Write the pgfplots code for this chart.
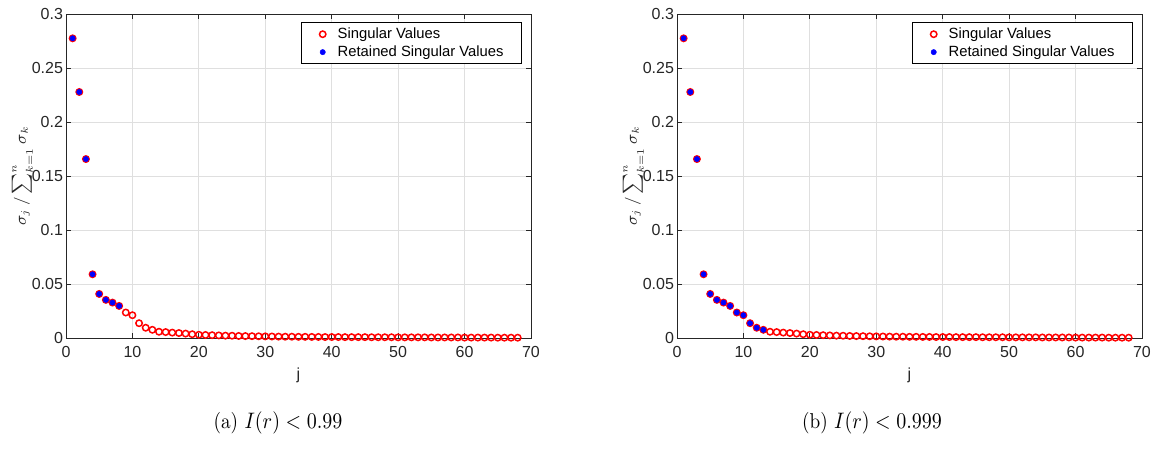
\documentclass[border=0pt]{standalone}
\usepackage{pgfplots}
\pgfplotsset{compat=1.18}
\usepackage{pgfplotstable}
\usepackage{fontspec}
\newfontfamily\arial{Liberation Sans}
\definecolor{axgray}{RGB}{38,38,38}
\definecolor{gridgray}{RGB}{223,223,223}

% normalised singular values sigma_j / sum_k sigma_k
\pgfplotstableread{
j s
1 0.2775
2 0.2278
3 0.1657
4 0.0590
5 0.0408
6 0.0353
7 0.0328
8 0.0297
9 0.0236
10 0.0211
11 0.0137
12 0.0095
13 0.0076
14 0.0058
15 0.0055
16 0.0050
17 0.0046
18 0.0041
19 0.0035
20 0.0030
21 0.0028
22 0.0026
23 0.0024
24 0.0022
25 0.0021
26 0.0019
27 0.0018
28 0.0017
29 0.0016
30 0.0015
31 0.0014
32 0.0013
33 0.0012
34 0.0012
35 0.0011
36 0.0011
37 0.0010
38 0.0010
39 0.0009
40 0.0009
41 0.0009
42 0.0008
43 0.0008
44 0.0008
45 0.0008
46 0.0007
47 0.0007
48 0.0007
49 0.0007
50 0.0006
51 0.0006
52 0.0006
53 0.0006
54 0.0006
55 0.0005
56 0.0005
57 0.0005
58 0.0005
59 0.0005
60 0.0004
61 0.0004
62 0.0004
63 0.0004
64 0.0004
65 0.0003
66 0.0003
67 0.0003
68 0.0003
}\svtable

\pgfplotsset{
  svaxis/.style={
    scale only axis, width=232.5pt, height=162pt,
    xmin=0, xmax=70, ymin=0, ymax=0.3,
    xtick={0,10,20,30,40,50,60,70},
    ytick={0,0.05,0.1,0.15,0.2,0.25,0.3},
    scaled y ticks=false,
    yticklabel style={/pgf/number format/fixed, /pgf/number format/precision=2, xshift=2pt},
    xticklabel style={yshift=-0.8pt},
    /pgf/number format/assume math mode=true,
    axis line style={axgray, line width=0.45pt},
    tick style={axgray, line width=0.45pt},
    tick align=inside, major tick length=2.3pt,
    grid=major, major grid style={gridgray, line width=0.4pt},
    tick label style={font=\arial\fontsize{8}{9.6}\selectfont, text=axgray},
    xlabel={j},
    xlabel style={font=\arial\fontsize{8}{9.6}\selectfont, text=axgray,
      at={(axis description cs:0.5,-0.114)}, anchor=center},
    ylabel={$\sigma_j\,/\sum_{k=1}^{n}\sigma_k$},
    ylabel style={text=axgray, font=\fontsize{7.6}{9}\selectfont, inner sep=0pt,
      at={(axis description cs:-0.094,0.5)}, anchor=center},
    clip=false,
    legend cell align=left,
    legend image code/.code={%
      \path[draw=none, fill=none] (-9.5pt,-1pt) rectangle (5.5pt,1pt);
      \draw[#1] plot coordinates {(0pt,0pt)};},
    legend style={at={(0.981,0.975)}, anchor=north east,
      draw=black, line width=0.45pt, fill=white,
      font=\arial\fontsize{7.4}{8.4}\selectfont,
      inner xsep=1pt, inner ysep=0.4pt, row sep=-1.9pt},
  },
  allsv/.style={only marks, mark=o, color=red, mark size=1.6pt,
    mark options={line width=0.75pt}},
  keptsv/.style={only marks, mark=*, color=blue, mark size=1.35pt,
    mark options={fill=blue, draw=blue, line width=0.2pt}},
}

\begin{document}
\begin{tikzpicture}
\useasboundingbox (0,0) rectangle (576.5pt,-225pt);

% (a) retained values for I(r) < 0.99
\begin{axis}[svaxis, at={(33pt,-169pt)}, anchor=south west]
  \addplot[allsv] table[x=j, y=s] {\svtable};
  \addlegendentry{\makebox[89pt][l]{Singular Values}}
  \addplot[keptsv] table[x=j, y=s, restrict expr to domain={\thisrow{j}}{1:8}] {\svtable};
  \addlegendentry{\makebox[89pt][l]{Retained Singular Values}}
\end{axis}

% (b) retained values for I(r) < 0.999
\begin{axis}[svaxis, at={(338.5pt,-169pt)}, anchor=south west]
  \addplot[allsv] table[x=j, y=s] {\svtable};
  \addlegendentry{\makebox[89pt][l]{Singular Values}}
  \addplot[keptsv] table[x=j, y=s, restrict expr to domain={\thisrow{j}}{1:13}] {\svtable};
  \addlegendentry{\makebox[89pt][l]{Retained Singular Values}}
\end{axis}

\node[font=\fontsize{9.6}{11.5}\selectfont, yscale=1.12, transform shape] at (139pt,-211.5pt) {(a) $I(r) < 0.99$};
\node[font=\fontsize{9.6}{11.5}\selectfont, yscale=1.12, transform shape] at (436pt,-211.5pt) {(b) $I(r) < 0.999$};
\end{tikzpicture}
\end{document}
